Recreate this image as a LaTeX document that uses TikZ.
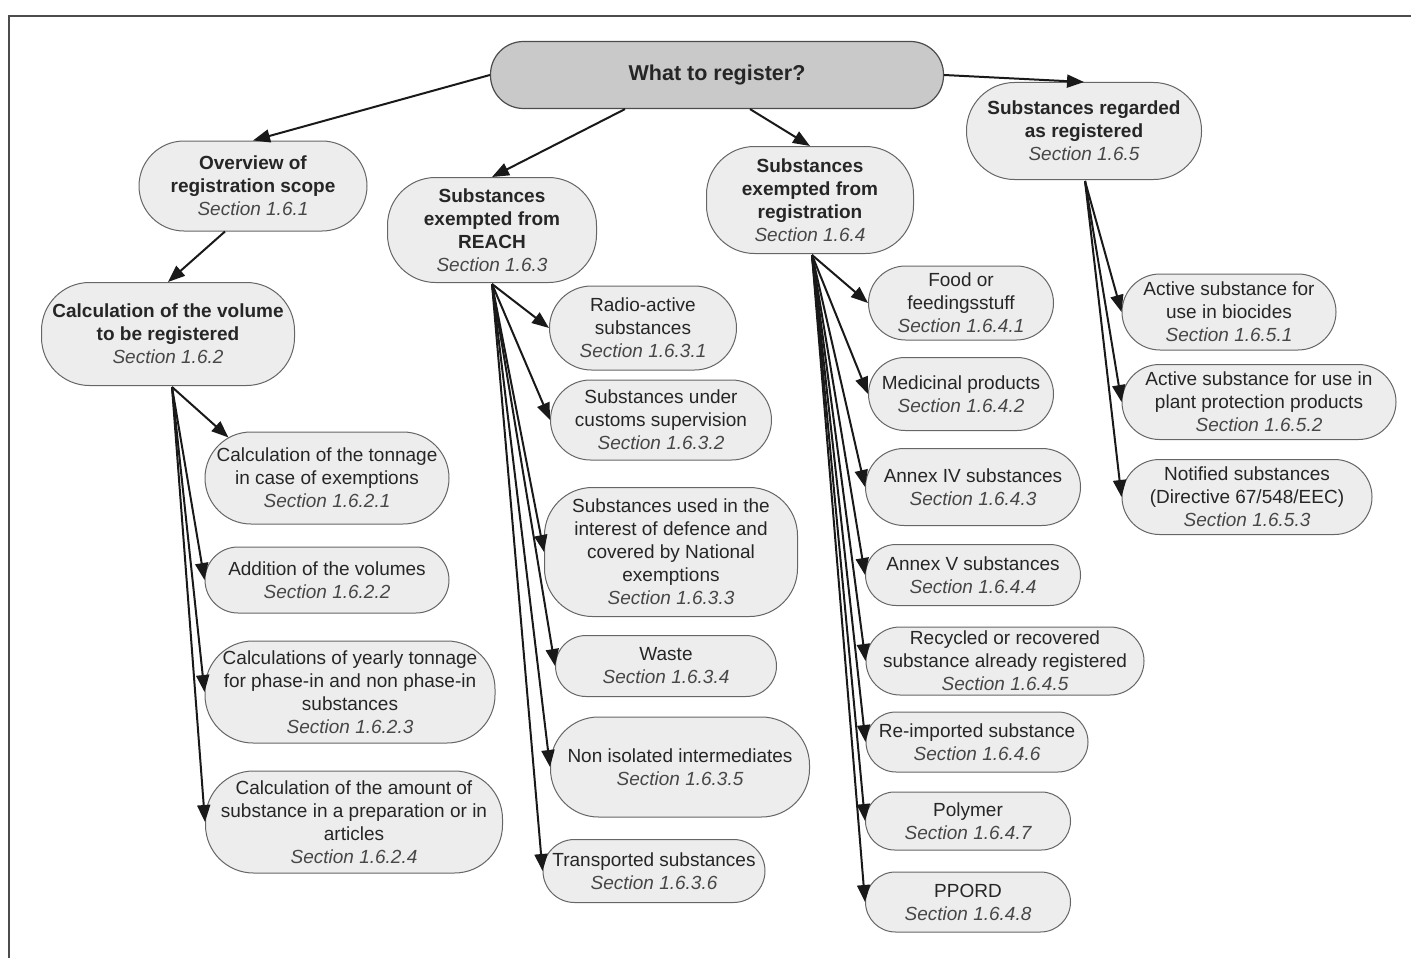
\documentclass[tikz,border=0pt]{standalone}
\usepackage{fontspec}
\setmainfont{Liberation Sans}
\usetikzlibrary{arrows.meta,calc}
\tikzset{
  box/.style n args={2}{draw=black!60, fill=black!7, line width=1pt,
    rounded corners={min(#2/2,48)*1pt}, inner sep=0pt, align=center,
    minimum width=#1pt, minimum height=#2pt,
    font=\fontsize{19}{23}\selectfont, text=black!85},
  ttl/.style={draw=black!70, fill=black!21, line width=1.2pt,
    rounded corners=33pt, inner sep=0pt, align=center,
    minimum width=453pt, minimum height=67pt,
    font=\bfseries\fontsize{21.5}{26}\selectfont, text=black!85},
  arr/.style={-{Triangle[length=17pt,width=13pt]}, line width=2pt, draw=black!90},
  frameline/.style={line width=1.5pt, draw=black!70}
}
\newcommand\sect[1]{\textit{\color{black!72}Section #1}}
\begin{document}
\begin{tikzpicture}[x=1pt,y=-1pt]
\useasboundingbox (0,0) rectangle (1411,958);
\draw[frameline] (9,958) -- (9,16) -- (1411,16);

% top level
\node[ttl] (top) at (717,75) {What to register?};
\node[box={228}{90}] (ov) at (253,186) {\textbf{Overview of}\\\textbf{registration scope}\\\sect{1.6.1}};
\node[box={253}{103}] (cv) at (168,334) {\textbf{Calculation of the volume}\\\textbf{to be registered}\\\sect{1.6.2}};
\node[box={209}{105}] (rch) at (492,230) {\textbf{Substances}\\\textbf{exempted from}\\\textbf{REACH}\\\sect{1.6.3}};
\node[box={207}{107}] (reg) at (810,200) {\textbf{Substances}\\\textbf{exempted from}\\\textbf{registration}\\\sect{1.6.4}};
\node[box={235}{97}] (rgd) at (1084,131) {\textbf{Substances regarded}\\\textbf{as registered}\\\sect{1.6.5}};

% column 1
\node[box={244}{92}] (c21) at (327,478) {Calculation of the tonnage\\in case of exemptions\\\sect{1.6.2.1}};
\node[box={244}{66}] (c22) at (327,580) {Addition of the volumes\\\sect{1.6.2.2}};
\node[box={290}{102}] (c23) at (350,692) {Calculations of yearly tonnage\\for phase-in and non phase-in\\substances\\\sect{1.6.2.3}};
\node[box={297}{102}] (c24) at (354,822) {Calculation of the amount of\\substance in a preparation or in\\articles\\\sect{1.6.2.4}};

% column 2
\node[box={187}{84}] (c31) at (643,328) {Radio-active\\substances\\\sect{1.6.3.1}};
\node[box={221}{80}] (c32) at (661,420) {Substances under\\customs supervision\\\sect{1.6.3.2}};
\node[box={253}{129}] (c33) at (671,552) {Substances used in the\\interest of defence and\\covered by National\\exemptions\\\sect{1.6.3.3}};
\node[box={221}{61}] (c34) at (666,666) {Waste\\\sect{1.6.3.4}};
\node[box={259}{100}] (c35) at (680,767) {Non isolated intermediates\\\sect{1.6.3.5}};
\node[box={222}{63}] (c36) at (654,871) {Transported substances\\\sect{1.6.3.6}};

% column 3
\node[box={185}{74}] (c41) at (961,303) {Food or\\feedingsstuff\\\sect{1.6.4.1}};
\node[box={185}{73}] (c42) at (961,394) {Medicinal products\\\sect{1.6.4.2}};
\node[box={215}{77}] (c43) at (973,487) {Annex IV substances\\\sect{1.6.4.3}};
\node[box={215}{61}] (c44) at (973,575) {Annex V substances\\\sect{1.6.4.4}};
\node[box={278}{68}] (c45) at (1005,661) {Recycled or recovered\\substance already registered\\\sect{1.6.4.5}};
\node[box={222}{60}] (c46) at (977,742) {Re-imported substance\\\sect{1.6.4.6}};
\node[box={205}{58}] (c47) at (968,821) {Polymer\\\sect{1.6.4.7}};
\node[box={205}{60}] (c48) at (968,902) {PPORD\\\sect{1.6.4.8}};

% column 4
\node[box={214}{76}] (c51) at (1229,312) {Active substance for\\use in biocides\\\sect{1.6.5.1}};
\node[box={274}{75}] (c52) at (1259,402) {Active substance for use in\\plant protection products\\\sect{1.6.5.2}};
\node[box={250}{75}] (c53) at (1247,497) {Notified substances\\(Directive 67/548/EEC)\\\sect{1.6.5.3}};

% connectors from top
\draw[arr] (top.west) -- (ov.north);
\draw[arr] ($(top.south)+(-92,0)$) -- (rch.north);
\draw[arr] ($(top.south)+(33,0)$) -- (reg.north);
\draw[arr] (top.east) -- (rgd.north);
\draw[arr] ($(ov.south)+(-28,0)$) -- (cv.north);

% fan-out sources
\coordinate (cvs) at ($(cv.south)+(4,1)$);
\coordinate (rchs) at ($(rch.south)+(0,1)$);
\coordinate (regs) at ($(reg.south)+(2,1)$);
\coordinate (rgds) at ($(rgd.south)+(1,1)$);

\draw[arr] (cvs) -- ($(c21.north west)+(24,6)$);
\foreach \n in {c22,c23,c24} \draw[arr] (cvs) -- (\n.west);
\foreach \n in {c31,c32,c33,c34,c35,c36} \draw[arr] (rchs) -- (\n.west);
\foreach \n in {c41,c42,c43,c44,c45,c46,c47,c48} \draw[arr] (regs) -- (\n.west);
\foreach \n in {c51,c52,c53} \draw[arr] (rgds) -- (\n.west);
\end{tikzpicture}
\end{document}
